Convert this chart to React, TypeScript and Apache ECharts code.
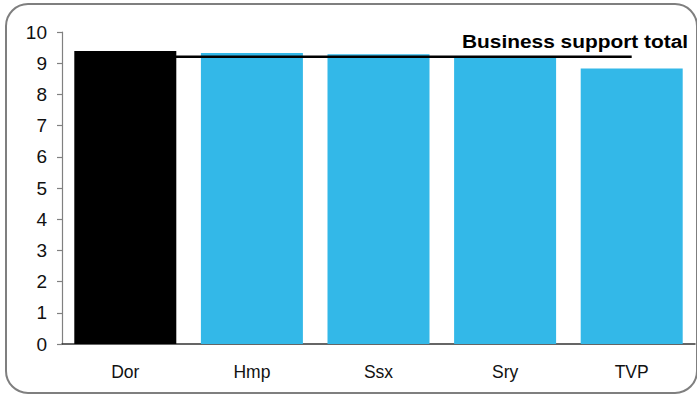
import React, { useEffect, useRef } from "react";
import * as echarts from "echarts";

const categories = ["Dor", "Hmp", "Ssx", "Sry", "TVP"];
const scores = [9.39, 9.33, 9.29, 9.22, 8.83];
const businessSupportTotal = [9.21, 9.21, 9.21, 9.21, 9.21];
const yTicks = [0, 10, 1];
const highlighted = "Dor";
const totalLabel = "Business support total";

const FONT = "'Liberation Sans', Arial, Helvetica, sans-serif";

export default function App() {
  const ref = useRef<HTMLDivElement>(null);
  useEffect(() => {
    if (!ref.current) return;
    const chart = echarts.init(ref.current, null, { renderer: "svg" });
    chart.setOption({
      animation: false,
      backgroundColor: "#ffffff",
      grid: { left: 62, right: 2, top: 32, bottom: 52, containLabel: false },
      xAxis: {
        type: "category",
        data: categories,
        axisLine: { show: true, lineStyle: { color: "#333333", width: 1.5 } },
        axisTick: { show: false },
        axisLabel: { color: "#111111", fontSize: 17.5, fontFamily: FONT, margin: 19 },
      },
      yAxis: {
        type: "value",
        min: yTicks[0],
        max: yTicks[1],
        interval: yTicks[2],
        splitLine: { show: false },
        axisLine: { show: true, lineStyle: { color: "#808080", width: 1.2 } },
        axisTick: { show: true, length: 5, lineStyle: { color: "#808080", width: 1.2 } },
        axisLabel: { color: "#111111", fontSize: 19, fontFamily: FONT, margin: 15 },
      },
      series: [
        {
          type: "bar",
          barWidth: 102,
          data: scores.map((v, i) => ({
            value: v,
            itemStyle: { color: categories[i] === highlighted ? "#000000" : "#33b8e8" },
          })),
          z: 2,
        },
        {
          type: "line",
          data: businessSupportTotal,
          symbol: "none",
          lineStyle: { color: "#000000", width: 2.5 },
          z: 3,
        },
      ],
      graphic: [
        {
          type: "rect",
          shape: { x: 6, y: 4, width: 691, height: 389, r: 22 },
          style: { fill: "none", stroke: "#7f7f7f", lineWidth: 2 },
          z: 10,
        },
        {
          type: "text",
          x: 462,
          y: 42,
          scaleX: 1.16,
          style: {
            text: totalLabel,
            fontSize: 18,
            fontWeight: "bold",
            fontFamily: FONT,
            fill: "#000000",
            textAlign: "left",
            textVerticalAlign: "middle",
          },
          z: 10,
        },
      ],
    });
    return () => chart.dispose();
  }, []);
  return (
    <div
      ref={ref}
      style={{ position: "absolute", left: 0, top: 0, width: 697, height: 396 }}
    />
  );
}
